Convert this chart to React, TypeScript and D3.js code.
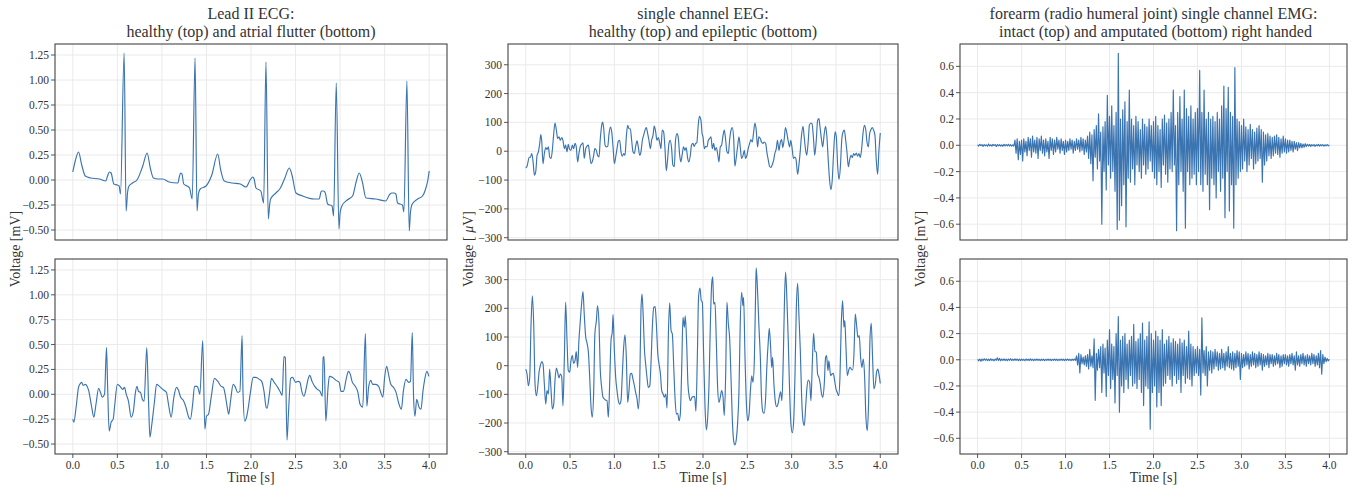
import React from "react";
import * as d3 from "d3";

type P = [number, number];

// ---------- DATA ----------
const xTicks = [0, 0.5, 1, 1.5, 2, 2.5, 3, 3.5, 4];
const ecgTicks = [-0.5, -0.25, 0, 0.25, 0.5, 0.75, 1.0, 1.25];
const eegTicks = [-300, -200, -100, 0, 100, 200, 300];
const emgTicks = [-0.6, -0.4, -0.2, 0, 0.2, 0.4, 0.6];

const titles = [
  ["Lead II ECG:", "healthy (top) and atrial flutter (bottom)"],
  ["single channel EEG:", "healthy (top) and epileptic (bottom)"],
  ["forearm (radio humeral joint) single channel EMG:", " intact (top) and amputated (bottom) right handed"],
];

const ecgHealthy: P[] = [
  [0,0.08],[0.03,0.2],[0.064,0.28],[0.1,0.15],[0.14,0.04],[0.2,0.02],[0.3,0.01],[0.37,-0.01],[0.39,0.04],[0.41,0.08],
  [0.43,0.07],[0.46,-0.04],[0.5,-0.05],[0.52,-0.06],[0.535,-0.14],[0.576,1.27],[0.598,-0.31],[0.615,-0.12],[0.63,-0.06],
  [0.67,-0.03],[0.72,0.0],[0.785,0.14],[0.834,0.27],[0.87,0.12],[0.905,0.02],[0.96,0.01],[1.01,0.01],[1.08,-0.02],
  [1.18,-0.03],[1.195,0.03],[1.21,0.07],[1.225,0.06],[1.245,-0.04],[1.3,-0.07],[1.31,-0.08],[1.34,-0.19],[1.372,1.22],
  [1.394,-0.31],[1.41,-0.14],[1.43,-0.09],[1.495,-0.06],[1.56,0.05],[1.626,0.26],[1.66,0.1],[1.7,-0.01],[1.79,-0.03],
  [1.88,-0.04],[1.944,-0.07],[1.99,0.0],[2.02,0.03],[2.035,0.01],[2.056,-0.08],[2.11,-0.11],[2.142,-0.23],[2.168,1.18],
  [2.194,-0.39],[2.21,-0.24],[2.22,-0.19],[2.28,-0.13],[2.33,-0.08],[2.38,0.02],[2.43,0.12],[2.46,0.05],[2.505,-0.13],
  [2.58,-0.16],[2.71,-0.19],[2.766,-0.19],[2.785,-0.12],[2.796,-0.11],[2.815,-0.11],[2.834,-0.13],[2.86,-0.24],[2.91,-0.26],
  [2.927,-0.36],[2.957,0.97],[2.987,-0.49],[3.0,-0.33],[3.02,-0.26],[3.08,-0.2],[3.14,-0.16],[3.18,-0.02],[3.215,0.07],
  [3.25,-0.02],[3.29,-0.18],[3.4,-0.19],[3.51,-0.21],[3.56,-0.14],[3.58,-0.13],[3.605,-0.13],[3.626,-0.14],[3.645,-0.23],
  [3.7,-0.25],[3.716,-0.32],[3.75,0.99],[3.776,-0.51],[3.79,-0.32],[3.81,-0.24],[3.87,-0.19],[3.925,-0.16],[3.96,-0.09],
  [3.985,0.0],[4.0,0.09],
];

const ecgFlutter: P[] = [
  [0,-0.25],[0.011,-0.28],[0.037,-0.13],[0.064,0.07],[0.086,0.11],[0.1,0.12],[0.116,0.09],[0.14,0.1],[0.16,0.08],[0.18,0.03],
  [0.21,-0.12],[0.236,-0.23],[0.26,-0.1],[0.29,0.06],[0.31,0.02],[0.33,-0.03],[0.356,0.0],[0.378,0.47],[0.39,0.1],[0.408,-0.37],
  [0.43,-0.28],[0.453,-0.25],[0.468,-0.13],[0.5,0.1],[0.53,0.08],[0.56,0.05],[0.58,0.07],[0.6,0.0],[0.625,-0.07],[0.655,-0.23],
  [0.68,-0.17],[0.7,0.0],[0.72,0.08],[0.737,0.03],[0.76,0.02],[0.78,-0.05],[0.8,-0.07],[0.83,0.47],[0.85,-0.07],[0.865,-0.43],
  [0.887,-0.3],[0.917,-0.07],[0.94,0.1],[0.973,0.08],[1.01,0.05],[1.05,0.02],[1.074,-0.1],[1.104,-0.23],[1.134,-0.03],[1.164,0.07],
  [1.186,0.04],[1.21,-0.03],[1.24,-0.06],[1.27,-0.13],[1.3,-0.23],[1.32,-0.25],[1.345,-0.1],[1.366,0.08],[1.396,0.08],[1.41,0.05],
  [1.426,0.0],[1.458,0.54],[1.482,-0.35],[1.5,-0.22],[1.523,-0.2],[1.553,-0.03],[1.59,0.16],[1.628,0.13],[1.665,0.08],[1.69,0.07],
  [1.71,0.0],[1.733,-0.13],[1.75,-0.2],[1.77,-0.07],[1.8,0.1],[1.82,0.08],[1.85,0.02],[1.875,0.03],[1.9,0.59],[1.91,0.03],
  [1.93,-0.27],[1.95,-0.23],[1.97,-0.13],[1.995,0.03],[2.025,0.17],[2.056,0.17],[2.094,0.15],[2.12,0.13],[2.146,0.03],[2.17,-0.13],
  [2.18,-0.14],[2.206,0.0],[2.23,0.16],[2.26,0.12],[2.3,0.07],[2.325,0.03],[2.35,-0.01],[2.37,0.38],[2.385,0.37],[2.404,-0.46],
  [2.42,-0.2],[2.445,0.16],[2.468,0.17],[2.5,0.12],[2.53,0.13],[2.55,0.12],[2.57,0.03],[2.595,-0.02],[2.617,0.05],[2.64,0.15],
  [2.66,0.19],[2.685,0.13],[2.715,0.08],[2.745,0.05],[2.775,0.03],[2.8,-0.02],[2.81,0.37],[2.82,0.38],[2.84,-0.27],[2.865,0.07],
  [2.88,0.18],[2.917,0.17],[2.955,0.14],[2.99,0.12],[3.01,0.03],[3.037,0.03],[3.07,0.16],[3.093,0.23],[3.115,0.2],[3.134,0.13],
  [3.17,0.08],[3.2,0.02],[3.224,-0.1],[3.254,-0.13],[3.284,0.61],[3.3,-0.12],[3.32,0.07],[3.344,0.14],[3.366,0.1],[3.4,0.1],
  [3.433,0.08],[3.456,0.02],[3.48,-0.03],[3.5,0.17],[3.523,0.28],[3.546,0.19],[3.57,0.1],[3.6,0.07],[3.628,0.02],[3.658,-0.09],
  [3.688,-0.15],[3.71,0.03],[3.74,0.15],[3.77,0.12],[3.79,0.13],[3.81,0.62],[3.825,-0.03],[3.84,-0.22],[3.86,-0.05],[3.886,-0.13],
  [3.908,-0.15],[3.93,0.03],[3.95,0.15],[3.974,0.23],[3.996,0.18],
];

const eegHealthy: P[] = [
  [0,-58],[0.015,-52],[0.038,-22],[0.053,-20],[0.068,-8],[0.083,-37],[0.098,-83],[0.113,-71],[0.128,-14],[0.143,-2],
  [0.158,27],[0.17,58],[0.18,38],[0.195,-43],[0.21,-8],[0.226,13],[0.24,6],[0.256,15],[0.27,-20],[0.286,-25],
  [0.3,3],[0.316,61],[0.33,98],[0.346,73],[0.36,44],[0.376,50],[0.39,38],[0.406,47],[0.42,38],[0.436,9],
  [0.45,21],[0.466,-2],[0.48,24],[0.496,6],[0.51,3],[0.526,21],[0.54,9],[0.556,27],[0.57,15],[0.586,-37],
  [0.6,-8],[0.616,17],[0.63,24],[0.646,29],[0.66,-25],[0.677,9],[0.69,17],[0.707,21],[0.72,-8],[0.737,-43],
  [0.75,-37],[0.767,-14],[0.78,9],[0.797,3],[0.81,-14],[0.827,-20],[0.84,38],[0.857,90],[0.868,101],[0.88,78],
  [0.895,21],[0.91,15],[0.925,17],[0.94,61],[0.955,84],[0.97,67],[0.985,15],[1.0,-43],[1.015,-20],[1.03,9],
  [1.045,35],[1.06,38],[1.075,-2],[1.09,-17],[1.105,-8],[1.12,-14],[1.135,50],[1.15,90],[1.165,78],[1.18,78],
  [1.195,38],[1.21,-2],[1.226,-8],[1.24,17],[1.256,36],[1.27,15],[1.286,-14],[1.3,-2],[1.316,38],[1.33,55],
  [1.346,73],[1.36,82],[1.376,61],[1.39,38],[1.406,9],[1.42,38],[1.436,55],[1.45,87],[1.466,67],[1.48,38],
  [1.496,47],[1.51,32],[1.526,9],[1.54,73],[1.556,67],[1.57,15],[1.586,-68],[1.6,-31],[1.616,27],[1.63,38],
  [1.646,9],[1.66,-48],[1.677,-54],[1.69,38],[1.707,61],[1.72,50],[1.737,-14],[1.75,-37],[1.767,-8],[1.78,15],
  [1.797,3],[1.81,13],[1.827,-25],[1.84,-37],[1.857,-14],[1.87,21],[1.887,27],[1.9,17],[1.917,27],[1.93,29],
  [1.947,93],[1.96,121],[1.977,107],[1.99,61],[2.0,50],[2.015,9],[2.03,17],[2.045,15],[2.06,38],[2.075,44],
  [2.09,50],[2.105,9],[2.12,27],[2.135,3],[2.15,13],[2.165,-8],[2.18,-37],[2.195,15],[2.21,21],[2.226,55],
  [2.24,73],[2.256,38],[2.27,-2],[2.286,-8],[2.3,38],[2.316,73],[2.33,82],[2.346,44],[2.36,-52],[2.376,-20],
  [2.39,15],[2.406,50],[2.42,15],[2.436,-25],[2.45,-17],[2.466,3],[2.48,-25],[2.496,-14],[2.51,9],[2.526,27],
  [2.54,40],[2.556,32],[2.57,63],[2.586,98],[2.6,75],[2.616,15],[2.63,50],[2.646,44],[2.66,32],[2.677,27],
  [2.69,32],[2.707,27],[2.72,-2],[2.737,-31],[2.75,-52],[2.767,-56],[2.78,-48],[2.797,-31],[2.81,-8],[2.827,9],
  [2.84,38],[2.857,3],[2.87,27],[2.887,40],[2.9,13],[2.917,44],[2.93,82],[2.947,61],[2.96,38],[2.977,15],
  [2.99,38],[3.008,3],[3.02,-25],[3.038,-20],[3.05,-29],[3.068,-80],[3.08,-54],[3.098,3],[3.11,50],[3.128,86],
  [3.14,55],[3.158,3],[3.17,-14],[3.188,38],[3.2,90],[3.218,98],[3.23,96],[3.248,38],[3.26,-14],[3.278,38],
  [3.293,107],[3.308,113],[3.32,84],[3.338,38],[3.35,15],[3.368,61],[3.383,86],[3.398,50],[3.413,-31],[3.428,-100],
  [3.443,-133],[3.458,-100],[3.473,-8],[3.49,67],[3.504,50],[3.52,-54],[3.534,-98],[3.55,-54],[3.565,38],[3.58,67],
  [3.594,73],[3.61,38],[3.624,-2],[3.64,-54],[3.654,-31],[3.67,-14],[3.684,-22],[3.7,-8],[3.714,-14],[3.73,-6],
  [3.744,-17],[3.76,-8],[3.774,-22],[3.79,9],[3.805,61],[3.82,90],[3.835,78],[3.85,32],[3.865,15],[3.88,61],
  [3.895,75],[3.91,82],[3.925,73],[3.94,55],[3.955,-31],[3.97,-80],[3.985,3],[4.0,63],
];

const eegEpileptic: P[] = [
  [0,-12],[0.015,-29],[0.03,-70],[0.045,-41],[0.06,145],[0.075,244],[0.09,145],[0.105,-64],[0.12,-105],[0.135,-76],
  [0.15,-23],[0.165,0],[0.18,14],[0.195,6],[0.21,-64],[0.226,-134],[0.24,-87],[0.256,-99],[0.27,-12],[0.286,-87],
  [0.3,-151],[0.316,-134],[0.33,-52],[0.346,-8],[0.36,-23],[0.376,-43],[0.39,-29],[0.406,-38],[0.42,-140],[0.436,29],
  [0.45,221],[0.466,87],[0.48,-17],[0.496,-23],[0.51,17],[0.526,35],[0.54,8],[0.556,17],[0.57,49],[0.586,-6],
  [0.6,87],[0.616,157],[0.63,215],[0.646,258],[0.66,180],[0.677,99],[0.69,81],[0.707,47],[0.72,-29],[0.737,-145],
  [0.75,-180],[0.767,-87],[0.78,110],[0.797,157],[0.81,209],[0.827,145],[0.84,-6],[0.857,-76],[0.872,-110],[0.887,-116],
  [0.9,-120],[0.917,-122],[0.932,-180],[0.947,-64],[0.962,87],[0.977,122],[0.985,178],[1.0,52],[1.015,-41],[1.03,-87],
  [1.045,-122],[1.06,-134],[1.075,-122],[1.09,-29],[1.105,64],[1.12,108],[1.135,29],[1.15,-128],[1.165,-87],[1.18,-29],
  [1.195,-27],[1.21,-47],[1.226,-70],[1.24,-93],[1.256,-116],[1.27,-151],[1.286,-64],[1.3,192],[1.312,250],[1.323,192],
  [1.34,52],[1.353,6],[1.368,-41],[1.383,-76],[1.4,-70],[1.413,6],[1.43,145],[1.444,203],[1.46,206],[1.474,145],
  [1.49,41],[1.504,6],[1.52,-29],[1.534,-87],[1.55,-99],[1.564,-110],[1.58,-99],[1.594,-148],[1.61,116],[1.624,219],
  [1.64,122],[1.654,110],[1.67,-6],[1.684,-110],[1.7,-169],[1.714,-166],[1.73,-192],[1.744,-169],[1.76,-6],[1.774,169],
  [1.79,134],[1.8,174],[1.816,76],[1.83,-64],[1.846,-110],[1.86,-122],[1.876,-110],[1.89,-108],[1.906,-108],[1.92,-159],
  [1.936,29],[1.95,240],[1.966,271],[1.98,227],[1.992,222],[2.008,29],[2.023,-145],[2.038,-224],[2.053,-180],[2.068,-64],
  [2.083,145],[2.098,285],[2.11,310],[2.12,215],[2.135,221],[2.15,87],[2.165,-76],[2.18,-128],[2.195,-110],[2.21,-87],
  [2.226,-110],[2.24,-174],[2.256,-29],[2.27,221],[2.286,145],[2.3,99],[2.316,-41],[2.33,-180],[2.346,-262],[2.36,-276],
  [2.376,-256],[2.39,-203],[2.406,-87],[2.42,145],[2.436,256],[2.45,209],[2.458,238],[2.474,29],[2.49,-134],[2.504,-192],
  [2.52,-169],[2.534,-93],[2.55,-35],[2.564,-58],[2.58,29],[2.594,262],[2.6,341],[2.617,250],[2.63,145],[2.647,29],
  [2.66,-110],[2.677,-163],[2.69,-166],[2.707,-110],[2.72,-6],[2.737,87],[2.748,130],[2.763,64],[2.775,-6],[2.785,29],
  [2.8,-64],[2.815,-122],[2.83,-143],[2.846,-134],[2.86,-110],[2.876,-91],[2.89,-122],[2.906,29],[2.92,238],[2.932,326],
  [2.947,227],[2.962,87],[2.977,-87],[2.992,-203],[3.008,-234],[3.023,-192],[3.038,-29],[3.053,203],[3.068,287],[3.083,169],
  [3.098,52],[3.113,-110],[3.128,-192],[3.143,-209],[3.158,-145],[3.173,-76],[3.188,-50],[3.203,-58],[3.218,-122],[3.233,6],
  [3.248,113],[3.263,50],[3.278,47],[3.293,-29],[3.308,-41],[3.323,-64],[3.338,-99],[3.353,-110],[3.368,-64],[3.383,29],
  [3.394,35],[3.41,-17],[3.42,17],[3.44,-35],[3.455,-29],[3.47,-27],[3.485,-52],[3.5,-81],[3.515,-93],[3.53,-105],
  [3.545,-41],[3.56,145],[3.575,227],[3.59,134],[3.6,157],[3.613,64],[3.628,-35],[3.643,-17],[3.658,-6],[3.673,-12],
  [3.688,-15],[3.703,41],[3.718,180],[3.733,140],[3.748,99],[3.763,105],[3.778,29],[3.793,-6],[3.808,23],[3.823,-35],
  [3.838,-180],[3.853,-227],[3.868,-134],[3.883,87],[3.898,148],[3.913,29],[3.928,-81],[3.944,-64],[3.958,-23],[3.973,-12],
  [3.988,-35],[4.0,-62],
];

// EMG sampled every 0.0125 s from 0 to 4 s
const emgIntact: number[] = [
  0.004,-0.006,0.008,-0.003,0.005,-0.008,0.006,-0.004,0.003,-0.007,0.009,-0.005,0.004,-0.006,0.007,-0.003,0.005,-0.009,0.006,-0.004,
  0.005,-0.006,0.004,-0.008,0.007,-0.005,0.006,-0.004,0.008,-0.006,0.005,-0.007,0.004,-0.006,0.04,-0.06,0.05,-0.11,0.03,-0.07,
  0.04,-0.12,0.05,-0.05,0.03,-0.08,0.06,-0.04,0.05,-0.09,0.07,-0.05,0.04,-0.06,0.06,-0.1,0.05,-0.04,0.07,-0.06,
  0.04,-0.08,0.05,-0.05,0.03,-0.1,0.06,-0.04,0.05,-0.07,0.04,-0.05,0.06,-0.03,0.04,-0.06,0.05,-0.04,0.03,-0.07,
  0.04,-0.05,0.03,-0.04,0.05,-0.03,0.04,-0.06,0.03,-0.04,0.05,-0.03,0.04,-0.05,0.06,-0.04,0.05,-0.07,0.04,-0.05,
  0.07,-0.1,0.1,-0.14,0.08,-0.27,0.12,-0.09,0.15,-0.18,0.24,-0.12,0.1,-0.6,0.14,-0.2,0.18,-0.34,0.38,-0.15,
  0.22,-0.25,0.3,-0.2,0.15,-0.35,0.25,-0.64,0.7,-0.57,0.2,-0.46,0.27,-0.3,0.33,-0.62,0.18,-0.25,0.42,-0.28,
  0.2,-0.18,0.15,-0.3,0.22,-0.15,0.18,-0.2,0.12,-0.25,0.2,-0.15,0.16,-0.22,0.14,-0.18,0.2,-0.12,0.15,-0.2,
  0.18,-0.25,0.22,-0.3,0.15,-0.2,0.12,-0.32,0.2,-0.15,0.23,-0.22,0.17,-0.28,0.2,-0.18,0.25,-0.2,0.42,-0.15,
  0.15,-0.65,0.25,-0.3,0.37,-0.2,0.2,-0.35,0.42,-0.63,0.28,-0.2,0.22,-0.3,0.3,-0.25,0.2,-0.22,0.25,-0.3,
  0.28,-0.2,0.57,-0.3,0.25,-0.35,0.42,-0.22,0.2,-0.3,0.25,-0.49,0.2,-0.25,0.22,-0.3,0.18,-0.4,0.25,-0.2,
  0.2,-0.35,0.3,-0.25,0.45,-0.55,0.28,-0.2,0.44,-0.5,0.25,-0.3,0.22,-0.63,0.59,-0.3,0.2,-0.25,0.18,-0.2,
  0.15,-0.18,0.2,-0.12,0.14,-0.2,0.12,-0.15,0.16,-0.1,0.12,-0.18,0.1,-0.14,0.13,-0.12,0.15,-0.1,0.12,-0.28,
  0.1,-0.15,0.08,-0.12,0.09,-0.08,0.07,-0.1,0.06,-0.08,0.07,-0.06,0.08,-0.07,0.06,-0.09,0.05,-0.06,0.07,-0.05,
  0.05,-0.06,0.04,-0.05,0.04,-0.04,0.03,-0.05,0.03,-0.03,0.02,-0.04,0.02,-0.02,0.015,-0.02,0.01,-0.015,0.012,-0.01,
  0.008,-0.006,0.007,-0.009,0.005,-0.004,0.006,-0.008,0.004,-0.005,0.007,-0.006,0.005,-0.004,0.006,-0.007,0.004,-0.005,0.006,-0.004,
  0.003,
];

const emgAmputated: number[] = [
  0.004,-0.008,0.006,-0.012,0.005,-0.006,0.008,-0.004,0.006,-0.007,0.005,-0.006,0.007,-0.005,0.004,-0.008,0.006,-0.004,0.015,-0.006,
  0.01,-0.008,0.006,-0.005,0.007,-0.006,0.005,-0.007,0.006,-0.004,0.008,-0.006,0.005,-0.005,0.007,-0.004,0.006,-0.007,0.005,-0.006,
  0.006,-0.005,0.004,-0.007,0.006,-0.004,0.005,-0.006,0.007,-0.005,0.004,-0.006,0.005,-0.004,0.006,-0.005,0.004,-0.006,0.005,-0.004,
  0.005,-0.006,0.004,-0.005,0.006,-0.004,0.005,-0.007,0.004,-0.005,0.006,-0.004,0.005,-0.006,0.004,-0.005,0.006,-0.004,0.005,-0.006,
  0.005,-0.004,0.006,-0.005,0.004,-0.006,0.005,-0.004,0.006,-0.005,0.03,-0.04,0.05,-0.1,0.04,-0.03,0.02,-0.04,0.03,-0.05,
  0.04,-0.07,0.08,-0.05,0.03,-0.06,0.16,-0.31,0.05,-0.08,0.08,-0.06,0.1,-0.25,0.12,-0.1,0.09,-0.28,0.15,-0.12,
  0.23,-0.22,0.12,-0.15,0.1,-0.33,0.2,-0.12,0.33,-0.4,0.15,-0.2,0.18,-0.25,0.2,-0.15,0.12,-0.22,0.15,-0.12,
  0.18,-0.2,0.27,-0.18,0.14,-0.22,0.16,-0.15,0.2,-0.25,0.28,-0.35,0.15,-0.2,0.18,-0.22,0.29,-0.53,0.2,-0.25,
  0.15,-0.2,0.22,-0.36,0.18,-0.25,0.15,-0.35,0.23,-0.2,0.12,-0.18,0.15,-0.12,0.18,-0.15,0.13,-0.2,0.16,-0.12,
  0.14,-0.18,0.12,-0.15,0.16,-0.25,0.13,-0.12,0.15,-0.18,0.1,-0.14,0.22,-0.15,0.12,-0.2,0.1,-0.12,0.08,-0.1,
  0.1,-0.12,0.08,-0.27,0.32,-0.1,0.07,-0.12,0.1,-0.2,0.06,-0.08,0.07,-0.1,0.06,-0.07,0.08,-0.05,0.06,-0.08,
  0.05,-0.07,0.08,-0.06,0.05,-0.08,0.06,-0.05,0.1,-0.06,0.05,-0.07,0.06,-0.08,0.05,-0.06,0.07,-0.05,0.06,-0.15,
  0.05,-0.06,0.04,-0.05,0.06,-0.04,0.05,-0.07,0.04,-0.05,0.06,-0.04,0.05,-0.06,0.04,-0.05,0.06,-0.04,0.05,-0.08,
  0.04,-0.05,0.03,-0.04,0.05,-0.06,0.04,-0.03,0.04,-0.05,0.03,-0.04,0.05,-0.03,0.04,-0.06,0.03,-0.05,0.04,-0.03,
  0.04,-0.04,0.03,-0.05,0.04,-0.03,0.05,-0.04,0.03,-0.08,0.06,-0.04,0.03,-0.05,0.04,-0.03,0.05,-0.04,0.03,-0.05,
  0.04,-0.03,0.03,-0.04,0.05,-0.03,0.04,-0.05,0.03,-0.04,0.05,-0.06,0.07,-0.11,0.04,-0.03,0.02,-0.015,0.01,-0.008,
  0.004,
];
const emgStep = 0.0125;

// ---------- LAYOUT ----------
const W = 1354;
const H = 487;
const cols = [
  { x: 55, w: 392, ylabX: 20 },
  { x: 508, w: 390, ylabX: 473 },
  { x: 960, w: 387, ylabX: 925 },
];
const rows = [
  { y: 44, h: 196 },
  { y: 259, h: 195 },
];
const LINE = "#3a74b1";
const TXT = "#333333";
const GRID = "#e8e8e8";
const FONT = "'Liberation Serif', 'DejaVu Serif', 'Times New Roman', serif";

const fmtMinus = (s: string) => s.replace("-", "\u2212");

type PanelProps = {
  col: number;
  row: number;
  data: P[];
  yDomain: [number, number];
  yTicks: number[];
  yFmt: (v: number) => string;
  curve: d3.CurveFactory;
};

function Panel({ col, row, data, yDomain, yTicks, yFmt, curve }: PanelProps) {
  const c = cols[col];
  const r = rows[row];
  const x = d3.scaleLinear().domain([-0.2, 4.2]).range([c.x, c.x + c.w]);
  const y = d3.scaleLinear().domain(yDomain).range([r.y + r.h, r.y]);
  const line = d3
    .line<P>()
    .x((d) => x(d[0]))
    .y((d) => y(d[1]))
    .curve(curve);
  const clipId = `clip-${col}-${row}`;
  return (
    <g>
      <defs>
        <clipPath id={clipId}>
          <rect x={c.x} y={r.y} width={c.w} height={r.h} />
        </clipPath>
      </defs>
      <rect x={c.x} y={r.y} width={c.w} height={r.h} fill="#ffffff" />
      {xTicks.map((t) => (
        <line key={"gx" + t} x1={x(t)} x2={x(t)} y1={r.y} y2={r.y + r.h} stroke={GRID} strokeWidth={0.9} />
      ))}
      {yTicks.map((t) => (
        <line key={"gy" + t} x1={c.x} x2={c.x + c.w} y1={y(t)} y2={y(t)} stroke={GRID} strokeWidth={0.9} />
      ))}
      <path d={line(data) || ""} fill="none" stroke={LINE} strokeWidth={1.15} strokeLinejoin="round" clipPath={`url(#${clipId})`} />
      <rect x={c.x} y={r.y} width={c.w} height={r.h} fill="none" stroke="#444" strokeWidth={1.1} />
      {yTicks.map((t) => (
        <g key={"ty" + t}>
          <line x1={c.x - 4} x2={c.x} y1={y(t)} y2={y(t)} stroke="#444" strokeWidth={0.9} />
          <text x={c.x - 6} y={y(t)} dy="0.35em" textAnchor="end" fontSize={11.5} fill={TXT} fontFamily={FONT}>
            {yFmt(t)}
          </text>
        </g>
      ))}
      {row === 1 &&
        xTicks.map((t) => (
          <g key={"tx" + t}>
            <line x1={x(t)} x2={x(t)} y1={r.y + r.h} y2={r.y + r.h + 4} stroke="#444" strokeWidth={0.9} />
            <text x={x(t)} y={r.y + r.h + 15} textAnchor="middle" fontSize={11.5} fill={TXT} fontFamily={FONT}>
              {d3.format(".1f")(t)}
            </text>
          </g>
        ))}
      {row === 1 && (
        <text x={c.x + c.w / 2} y={r.y + r.h + 28} textAnchor="middle" fontSize={14} fill={TXT} fontFamily={FONT}>
          Time [s]
        </text>
      )}
    </g>
  );
}

export default function App() {
  const emgToPairs = (arr: number[]): P[] => arr.map((v, i) => [i * emgStep, v] as P);
  const ecgFmt = (v: number) => fmtMinus(d3.format(".2f")(v));
  const eegFmt = (v: number) => fmtMinus(d3.format("d")(v));
  const emgFmt = (v: number) => fmtMinus(d3.format(".1f")(v));
  const ecgDom: [number, number] = [-0.6, 1.36];
  const eegDom: [number, number] = [-308, 372];
  const emgDom: [number, number] = [-0.72, 0.77];
  const midY = (rows[0].y + rows[1].y + rows[1].h) / 2;

  return (
    <svg width={W} height={H} style={{ position: "absolute", left: 0, top: 0, background: "#fff" }} fontFamily={FONT}>
      <rect x={0} y={0} width={W} height={H} fill="#fff" />
      {titles.map((t, i) => (
        <text key={"title" + i} x={cols[i].x + cols[i].w / 2} textAnchor="middle" fontSize={16} fill={TXT} fontFamily={FONT}>
          <tspan x={cols[i].x + cols[i].w / 2} y={19}>{t[0]}</tspan>
          <tspan x={cols[i].x + cols[i].w / 2} y={37} style={{ whiteSpace: "pre" }}>{t[1]}</tspan>
        </text>
      ))}
      <Panel col={0} row={0} data={ecgHealthy} yDomain={ecgDom} yTicks={ecgTicks} yFmt={ecgFmt} curve={d3.curveMonotoneX} />
      <Panel col={0} row={1} data={ecgFlutter} yDomain={ecgDom} yTicks={ecgTicks} yFmt={ecgFmt} curve={d3.curveMonotoneX} />
      <Panel col={1} row={0} data={eegHealthy} yDomain={eegDom} yTicks={eegTicks} yFmt={eegFmt} curve={d3.curveMonotoneX} />
      <Panel col={1} row={1} data={eegEpileptic} yDomain={eegDom} yTicks={eegTicks} yFmt={eegFmt} curve={d3.curveMonotoneX} />
      <Panel col={2} row={0} data={emgToPairs(emgIntact)} yDomain={emgDom} yTicks={emgTicks} yFmt={emgFmt} curve={d3.curveLinear} />
      <Panel col={2} row={1} data={emgToPairs(emgAmputated)} yDomain={emgDom} yTicks={emgTicks} yFmt={emgFmt} curve={d3.curveLinear} />
      <text transform={`translate(${cols[0].ylabX},${midY}) rotate(-90)`} textAnchor="middle" fontSize={14} fill={TXT} fontFamily={FONT}>
        Voltage [mV]
      </text>
      <text transform={`translate(${cols[1].ylabX},${midY}) rotate(-90)`} textAnchor="middle" fontSize={14} fill={TXT} fontFamily={FONT}>
        <tspan>Voltage [ </tspan>
        <tspan fontStyle="italic">μ</tspan>
        <tspan>V]</tspan>
      </text>
      <text transform={`translate(${cols[2].ylabX},${midY}) rotate(-90)`} textAnchor="middle" fontSize={14} fill={TXT} fontFamily={FONT}>
        Voltage [mV]
      </text>
    </svg>
  );
}
